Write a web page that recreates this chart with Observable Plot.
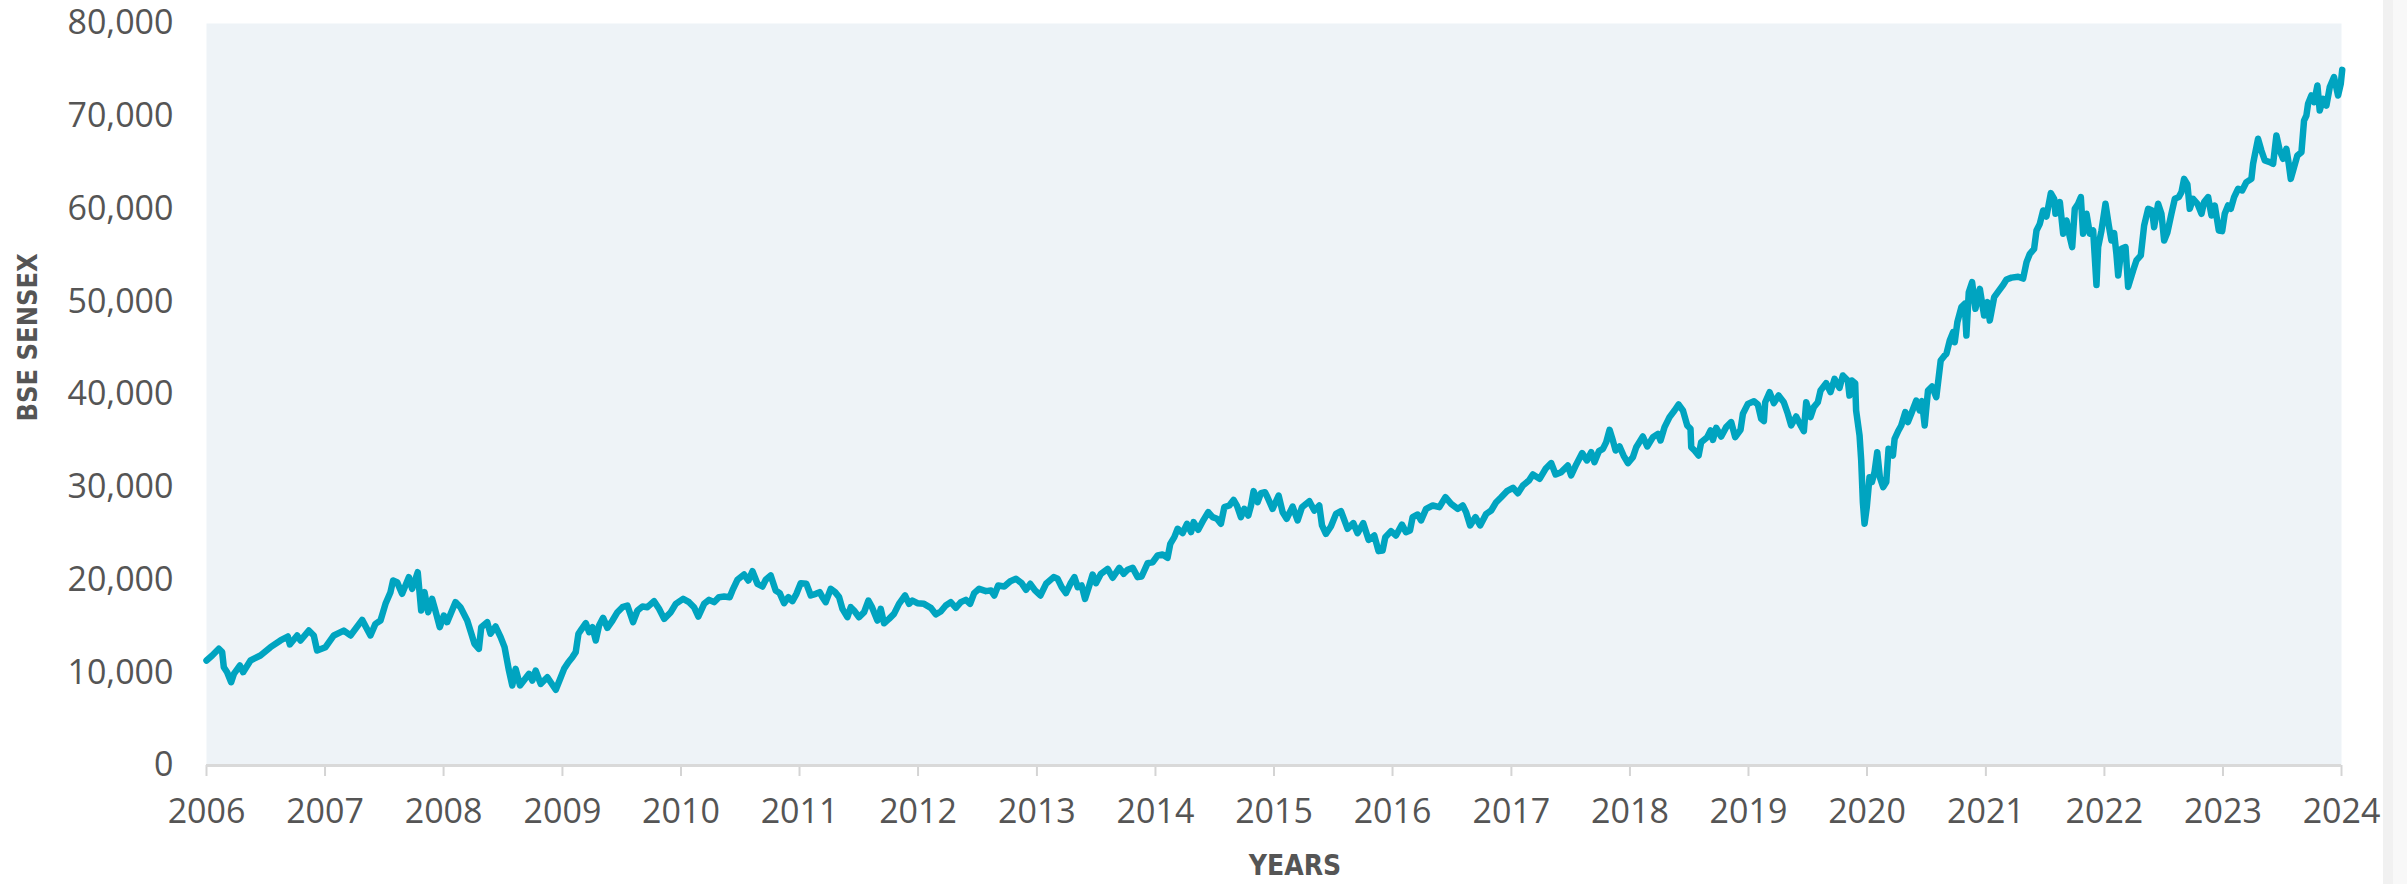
<!DOCTYPE html>
<html>
<head>
<meta charset="utf-8">
<script src="https://cdn.jsdelivr.net/npm/d3@7"></script>
<script src="https://cdn.jsdelivr.net/npm/@observablehq/plot@0.6"></script>
<style>
  html, body { margin: 0; padding: 0; background: #ffffff; }
  #chart { position: absolute; left: 0; top: 0; }
  #strip1 { position: absolute; left: 2383px; top: 0; width: 10px; height: 884px; background: #f1f1f1; }
  #strip2 { position: absolute; left: 2393px; top: 0; width: 14px; height: 884px; background: #f8f8f8; }
</style>
</head>
<body>
<div id="chart"></div>
<div id="strip1"></div>
<div id="strip2"></div>
<script>
// Decimal-year positions
const years = [
2006.000,2006.048,2006.104,2006.132,2006.146,2006.174,2006.208,2006.231,2006.281,2006.309,2006.371,2006.455,2006.540,2006.624,2006.686,2006.703,2006.765,2006.793,2006.863,2006.905,2006.933,
2007.004,2007.074,2007.158,2007.215,2007.313,2007.383,2007.425,2007.468,2007.510,2007.552,2007.574,2007.608,2007.650,2007.707,2007.735,2007.782,2007.811,2007.839,2007.870,2007.903,2007.931,2007.968,
2008.002,2008.030,2008.100,2008.142,2008.199,2008.260,2008.297,2008.317,2008.367,2008.395,2008.437,2008.480,2008.513,2008.550,2008.578,2008.606,2008.643,2008.719,2008.747,2008.775,2008.817,2008.873,2008.944,
2008.986,2009.014,2009.050,2009.084,2009.112,2009.135,2009.163,2009.197,2009.225,2009.253,2009.281,2009.309,2009.343,2009.379,2009.422,2009.464,2009.506,2009.548,2009.596,2009.633,2009.675,2009.717,2009.773,2009.815,2009.858,2009.914,2009.956,
2010.018,2010.068,2010.110,2010.147,2010.195,2010.237,2010.279,2010.321,2010.364,2010.411,2010.434,2010.476,2010.532,2010.569,2010.603,2010.645,2010.687,2010.715,2010.757,2010.799,2010.833,2010.870,2010.906,2010.940,2010.974,
2011.010,2011.058,2011.095,2011.137,2011.170,2011.193,2011.221,2011.263,2011.300,2011.334,2011.362,2011.404,2011.432,2011.460,2011.502,2011.545,2011.581,2011.609,2011.657,2011.685,2011.713,2011.755,2011.797,2011.839,2011.890,2011.924,2011.952,2011.994,
2012.050,2012.107,2012.149,2012.191,2012.233,2012.275,2012.318,2012.360,2012.402,2012.438,2012.472,2012.514,2012.571,2012.613,2012.641,2012.674,2012.725,2012.776,2012.824,2012.871,2012.908,2012.944,2012.984,
2013.029,2013.077,2013.141,2013.175,2013.209,2013.245,2013.282,2013.316,2013.344,2013.377,2013.406,2013.442,2013.470,2013.498,2013.540,2013.597,2013.639,2013.695,2013.732,2013.765,2013.808,2013.850,2013.883,2013.934,2013.976,
2014.018,2014.060,2014.102,2014.125,2014.159,2014.187,2014.229,2014.266,2014.300,2014.322,2014.361,2014.406,2014.445,2014.482,2014.519,2014.552,2014.581,2014.623,2014.659,2014.687,2014.721,2014.749,2014.783,2014.806,2014.828,2014.862,2014.890,2014.924,2014.946,2014.988,
2015.039,2015.073,2015.107,2015.157,2015.199,2015.236,2015.298,2015.340,2015.382,2015.405,2015.438,2015.480,2015.523,2015.565,2015.621,2015.669,2015.705,2015.753,2015.798,2015.846,2015.882,2015.916,2015.939,2015.987,
2016.029,2016.079,2016.113,2016.147,2016.169,2016.212,2016.240,2016.282,2016.338,2016.394,2016.445,2016.493,2016.549,2016.591,2016.619,2016.653,2016.698,2016.737,2016.788,2016.830,2016.872,2016.914,2016.962,
2017.013,2017.055,2017.097,2017.148,2017.181,2017.238,2017.288,2017.336,2017.373,2017.420,2017.476,2017.504,2017.547,2017.597,2017.637,2017.673,2017.701,2017.738,2017.772,2017.800,2017.828,2017.856,2017.879,2017.912,2017.946,2017.983,
2018.025,2018.053,2018.109,2018.146,2018.194,2018.236,2018.258,2018.292,2018.334,2018.376,2018.410,2018.447,2018.483,2018.511,2018.517,2018.545,2018.579,2018.601,2018.652,2018.680,2018.700,2018.728,2018.770,2018.812,2018.854,2018.888,2018.933,2018.953,2018.995,
2019.046,2019.079,2019.107,2019.130,2019.141,2019.178,2019.214,2019.254,2019.298,2019.332,2019.360,2019.402,2019.445,2019.467,2019.487,2019.523,2019.551,2019.585,2019.608,2019.655,2019.692,2019.726,2019.768,2019.796,2019.838,2019.852,2019.872,2019.900,
2019.908,2019.937,2019.951,2019.965,2019.979,2019.998,2020.021,2020.041,2020.063,2020.086,2020.108,2020.136,2020.162,2020.181,2020.218,2020.232,2020.265,2020.288,2020.322,2020.344,2020.372,2020.414,2020.443,2020.462,2020.485,2020.513,2020.547,2020.583,2020.620,2020.653,
2020.668,2020.696,2020.724,2020.738,2020.760,2020.794,2020.822,2020.836,2020.856,2020.884,2020.912,2020.949,2020.985,2021.013,2021.033,2021.070,2021.110,2021.145,
2021.174,2021.216,2021.272,2021.314,2021.343,2021.371,2021.407,2021.427,2021.455,2021.483,2021.511,2021.548,2021.576,2021.587,2021.624,2021.652,2021.680,2021.708,2021.728,2021.750,2021.778,2021.801,2021.820,2021.849,2021.877,2021.905,2021.933,2021.947,2021.975,
2022.009,2022.037,2022.059,2022.082,2022.101,2022.116,2022.144,2022.178,2022.200,2022.242,2022.270,2022.307,2022.335,2022.369,2022.402,2022.419,2022.453,2022.481,2022.504,2022.532,2022.565,2022.594,2022.627,2022.650,2022.672,2022.700,2022.720,2022.748,2022.785,2022.819,2022.841,2022.875,2022.903,2022.931,2022.965,2022.993,
2023.015,2023.043,2023.066,2023.094,2023.128,2023.162,2023.198,2023.240,2023.254,2023.268,2023.296,2023.324,2023.353,2023.395,2023.423,2023.451,2023.479,2023.507,2023.535,2023.555,2023.572,2023.600,2023.628,2023.662,2023.684,2023.704,2023.718,2023.746,2023.769,2023.797,2023.816,2023.845,2023.873,2023.901,2023.937,2023.971,2023.994,2024.006
];

// BSE SENSEX values
const sensex = [
11320,11860,12580,12220,10600,10060,8985,9880,10780,10060,11320,11860,12760,13480,13910,13050,14020,13480,14550,14020,12400,
12760,14020,14550,14020,15700,14020,15270,15630,17430,18690,19950,19770,18510,20300,19050,20840,16710,18690,16530,17970,16710,14910,
16170,15450,17610,17070,15630,13120,12580,14910,15450,14200,14990,13840,12760,10240,8630,10420,8630,9880,9160,10240,8800,9520,8160,
9520,10420,11140,11680,12220,14200,14730,15340,14370,14910,13480,15090,15920,14840,15630,16530,17070,17250,15450,16710,17140,17070,17720,16890,15810,16530,17430,
17970,17610,17070,16060,17430,17860,17610,18150,18220,18150,18870,20020,20590,19950,20950,19590,19300,20020,20490,18870,18580,17500,18150,17720,18510,
19660,19590,18330,18510,18690,18150,17610,19050,18690,18150,16890,15990,17070,16710,15990,16530,17790,17140,15630,16890,15340,15810,16350,17430,18330,17430,17790,17500,
17430,17000,16300,16600,17250,17610,17000,17610,17860,17430,18580,19050,18800,18870,18330,19410,19300,19870,20130,19660,18940,19590,18870,
18330,19590,20310,20130,19230,18580,19590,20310,19230,19410,17970,19410,20590,19660,20670,21200,20240,21310,20670,21100,21310,20310,20380,21820,21920,
22640,22750,22390,23900,24620,25520,25050,26060,25160,26240,25410,26490,27320,26780,26600,26060,27850,28030,28640,28030,26780,27670,26950,28030,29580,28390,29360,29470,28900,27670,
29110,27310,26600,27920,26420,27850,28500,27490,28030,25880,24980,25770,27130,27420,25520,26130,25050,26130,24330,24800,23110,23180,24620,25270,
24800,25980,25160,25340,26780,27060,26420,27670,28030,27850,28930,28210,27670,28030,27310,25880,26780,25880,27130,27490,28390,28930,29580,
29940,29360,30190,30730,31380,30910,31990,32600,31380,31630,32350,31270,32460,33680,32890,33780,32710,33890,34140,34860,36190,35040,33960,34400,33420,32600,
33250,34320,35470,34400,35400,35760,35040,36480,37560,38280,38920,38280,36660,36300,34320,33960,33420,34860,35400,36120,35110,36410,35470,36480,37020,35400,36190,37920,38990,
39280,38920,37380,37130,39170,40250,39070,39890,39170,37920,36660,37630,36550,36050,39170,37560,38640,39170,40430,41220,40250,41690,40720,42050,41510,39890,41510,41220,
38280,35580,32880,28390,26060,27850,31090,30550,31630,33780,31090,30010,30550,34140,33420,35220,36120,36660,38100,37020,37920,39350,38280,39280,36660,40430,40860,39710,43670,44210,
44390,45820,46720,45640,47800,49420,49780,46360,51030,52110,49240,51390,48520,49960,47980,50500,51200,51800,
52400,52600,52700,52500,54270,55170,55710,57680,58400,59840,59190,61710,61100,59480,60740,57330,58760,56970,55890,60020,60560,61280,57330,59480,57330,57680,51800,55890,57680,
60560,58220,56610,57400,55170,52830,55710,55890,51600,53370,54450,54990,58220,60020,59840,58040,60560,59480,56610,57500,59480,61100,61280,61820,63250,62640,60020,61100,60560,59480,60740,61280,59300,60380,57680,57610,
59480,60380,60020,61280,62180,62000,62900,63250,64870,65770,67570,66310,65230,65050,64870,67930,66310,65410,66490,64870,63250,64510,65770,66130,69540,70080,71340,72240,71520,73320,70620,71880,71160,73140,74220,72240,73500,75000
];

const yearTicks = [2006,2007,2008,2009,2010,2011,2012,2013,2014,2015,2016,2017,2018,2019,2020,2021,2022,2023,2024];
const valueTicks = [0,10000,20000,30000,40000,50000,60000,70000,80000];
const xLabel = "YEARS";
const yLabel = "BSE SENSEX";

function toDate(t) {
  const y = Math.floor(t);
  const s = Date.UTC(y, 0, 1), e = Date.UTC(y + 1, 0, 1);
  return new Date(s + (t - y) * (e - s));
}
const data = years.map((t, i) => ({date: toDate(t), value: sensex[i]}));
const tickDates = yearTicks.map(y => new Date(Date.UTC(y, 0, 1)));

const titleFont = "'Liberation Sans Narrow', 'DejaVu Sans Condensed', sans-serif";

const chart = Plot.plot({
  width: 2383,
  height: 884,
  marginLeft: 206,
  marginRight: 42,
  marginTop: 23,
  marginBottom: 119,
  style: {fontFamily: "'Open Sans', sans-serif", fontSize: "34px", color: "#555555", background: "#ffffff", overflow: "visible"},
  x: {type: "utc", domain: [tickDates[0], tickDates[tickDates.length - 1]]},
  y: {domain: [valueTicks[0], valueTicks[valueTicks.length - 1]]},
  marks: [
    Plot.frame({fill: "#eef3f7", stroke: null}),
    Plot.axisY({ticks: valueTicks, tickFormat: d3.format(","), tickSize: 0, tickPadding: 33, label: null, fill: "#555555"}),
    Plot.axisX({ticks: tickDates, tickFormat: d3.utcFormat("%Y"), tickSize: 11, tickPadding: 22, label: null, stroke: "#d4d4d4", strokeWidth: 2, strokeOpacity: 1, fill: "#555555"}),
    Plot.ruleY([0], {stroke: "#d9d9d9", strokeWidth: 3}),
    Plot.line(data, {x: "date", y: "value", stroke: "#00a4c0", strokeWidth: 6.5, strokeLinejoin: "round", strokeLinecap: "round"}),
    Plot.text([xLabel], {frameAnchor: "bottom", lineAnchor: "middle", dx: 21, dy: 101, fontFamily: titleFont, fontWeight: "bold", fontSize: 28, fill: "#555555"}),
    Plot.text([yLabel], {frameAnchor: "left", textAnchor: "start", lineAnchor: "middle", rotate: -90, dx: -178, dy: 27, fontFamily: titleFont, fontWeight: "bold", fontSize: 27, fill: "#555555"})
  ]
});
document.getElementById("chart").appendChild(chart);
</script>
</body>
</html>
